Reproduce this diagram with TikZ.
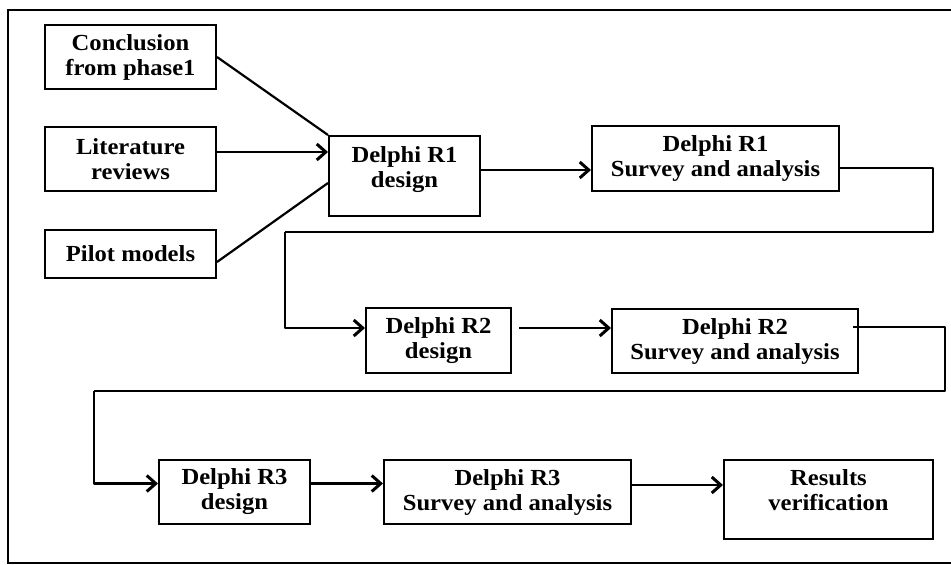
\documentclass[tikz,border=0pt]{standalone}
\usepackage{fontspec}
\setmainfont{Liberation Serif}[FakeStretch=1.07]
\usetikzlibrary{arrows.meta}
\begin{document}
\begin{tikzpicture}[x=1pt,y=-1pt,
  box/.style={draw,line width=2pt,rectangle,inner sep=0pt,align=center,
    font=\bfseries\fontsize{23}{25}\selectfont},
  link/.style={line width=2.2pt},
  arr/.style={line width=2.2pt,-{Straight Barb[length=9pt,width=16pt,line width=3pt]}}]
\useasboundingbox (0,0) rectangle (951,565);
\draw[line width=2.8pt] (955,10) -- (8,10) -- (8,563) -- (955,563);
% boxes
\node[box,minimum width=171pt,minimum height=64pt] (conc) at (130.5,57) {Conclusion\\from phase1};
\node[box,minimum width=171pt,minimum height=64pt] (lit) at (130.5,159) {Literature\\reviews};
\node[box,minimum width=171pt,minimum height=48pt] (pilot) at (130.5,254) {Pilot models};
\node[box,minimum width=151pt,minimum height=80pt,text height=17pt,text depth=44pt] (r1d) at (404.5,176)
  {\begin{tabular}[t]{@{}c@{}}Delphi R1\\design\end{tabular}};
\node[box,minimum width=247pt,minimum height=65pt] (r1s) at (715.5,158.5) {Delphi R1\\Survey and analysis};
\node[box,minimum width=145pt,minimum height=65pt] (r2d) at (438.5,340.5) {Delphi R2\\design};
\node[box,minimum width=246pt,minimum height=64pt] (r2s) at (735,341) {Delphi R2\\Survey and analysis};
\node[box,minimum width=151pt,minimum height=64pt] (r3d) at (234.5,492) {Delphi R3\\design};
\node[box,minimum width=247pt,minimum height=64pt] (r3s) at (507.5,492) {Delphi R3\\Survey and analysis};
\node[box,minimum width=209pt,minimum height=79pt,text height=17pt,text depth=46pt] (res) at (828.5,499.5)
  {\begin{tabular}[t]{@{}c@{}}Results\\verification\end{tabular}};
% bend points
\coordinate (k1) at (933,232);
\coordinate (k2) at (285,232);
\coordinate (k3) at (945,391);
\coordinate (k4) at (94,391);
% connectors
\draw[link] (conc.east) -- (r1d.north west);
\draw[arr] ([yshift=7pt]lit.east) -- ([yshift=7pt]lit.east -| r1d.west);
\draw[link] ([yshift=-8pt]pilot.east) -- ([yshift=-7pt]r1d.west);
\draw[arr] ([yshift=6pt]r1d.east) -- ([yshift=6pt]r1d.east -| r1s.west);
\draw[link,line join=round] ([yshift=-9.5pt]r1s.east) -| (k1) -- (k2);
\draw[arr,line join=round] (k2) |- ([yshift=12.5pt]r2d.west);
\draw[arr] ([xshift=7pt,yshift=12.5pt]r2d.east) -- ([yshift=12.5pt]r2d.east -| r2s.west);
\draw[link,line join=round] ([xshift=-6pt,yshift=14pt]r2s.east) -| (k3) -- (k4);
\draw[arr,line join=round] (k4) |- ([yshift=8.5pt]r3d.west);
\draw[arr] ([yshift=8.5pt]r3d.east) -- ([yshift=8.5pt]r3d.east -| r3s.west);
\draw[arr] ([yshift=7pt]r3s.east) -- ([yshift=7pt]r3s.east -| res.west);
\end{tikzpicture}
\end{document}
